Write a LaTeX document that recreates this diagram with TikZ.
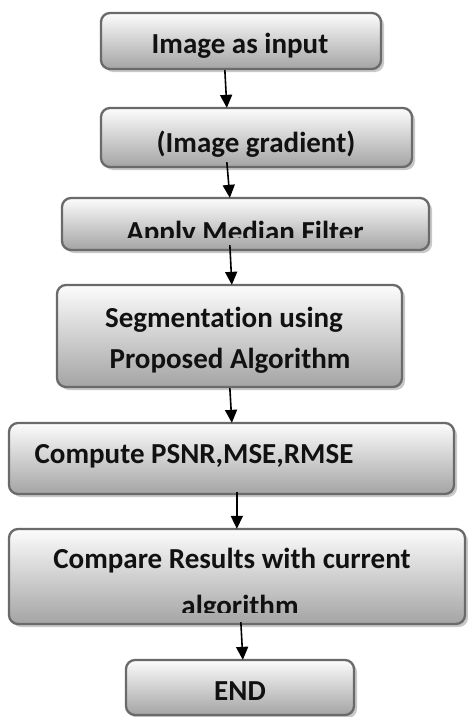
\documentclass[tikz,border=0pt]{standalone}
\usepackage{fontspec}
\setmainfont{Carlito}[RawFeature=-liga]
\usetikzlibrary{shadows,arrows.meta}
\definecolor{boxline}{HTML}{6A6A6A}
\definecolor{boxtop}{HTML}{FCFCFC}
\definecolor{boxbot}{HTML}{A4A4A4}
\definecolor{shad}{HTML}{C8C8C8}
\definecolor{txt}{HTML}{111111}
\tikzset{
  box/.style={draw=boxline, line width=2.3pt, rounded corners=9pt,
    top color=boxtop, bottom color=boxbot, inner sep=0pt,
    drop shadow={shadow xshift=3pt, shadow yshift=-3pt, fill=shad, opacity=1}},
  lbl/.style={anchor=base, inner sep=0pt, text=txt,
    font=\fontsize{29}{35}\selectfont\bfseries},
  arr/.style={line width=1.6pt, -{Triangle[width=12pt,length=13pt]}}
}
\begin{document}
\begin{tikzpicture}[x=1pt,y=-1pt]
\useasboundingbox (0,0) rectangle (467,717);
% boxes
\node[box, minimum width=280pt, minimum height=56pt] (b1) at (241,41) {};
\node[box, minimum width=311pt, minimum height=59pt] (b2) at (256.5,137.5) {};
\node[box, minimum width=367pt, minimum height=52pt] (b3) at (245.5,224) {};
\node[box, minimum width=345pt, minimum height=102pt] (b4) at (229.5,336) {};
\node[box, minimum width=445pt, minimum height=71pt] (b5) at (231.5,458.5) {};
\node[box, minimum width=456pt, minimum height=95pt] (b6) at (237,576.5) {};
\node[box, minimum width=228pt, minimum height=55pt] (b7) at (240,687.5) {};
% texts
\node[lbl] (t1) at (240,53) {Image as input};
\node[lbl] (t2) at (256,152) {(Image gradient)};
\begin{scope}
  \clip (0,0) rectangle (467,237);
  \node[lbl] (t3) at (245,241) {Apply Median Filter};
\end{scope}
\node[lbl] (t4a) at (224,327) {Segmentation using};
\node[lbl] (t4b) at (230,368) {Proposed Algorithm};
\node[lbl] (t5) at (194,463) {Compute PSNR,MSE,RMSE};
\node[lbl] (t6a) at (232,568) {Compare Results with current};
\begin{scope}
  \clip (0,0) rectangle (467,612);
  \node[lbl] (t6b) at (240,615) {algorithm};
\end{scope}
\node[lbl] (t7) at (240,700) {END};
% arrows
\draw[arr] ([xshift=125pt]b1.south west) -- ([xshift=127pt,yshift=-1pt]b2.north west);
\draw[arr] ([xshift=127pt,yshift=6pt]b2.south west) -- ([xshift=169pt,yshift=-1pt]b3.north west);
\draw[arr] ([xshift=169pt,yshift=6pt]b3.south west) -- ([xshift=176pt,yshift=-1pt]b4.north west);
\draw[arr] ([xshift=174pt]b4.south west) -- ([xshift=224pt,yshift=-1pt]b5.north west);
\draw[arr] ([xshift=229pt,yshift=3pt]b5.south west) -- ([xshift=229pt,yshift=-1pt]b6.north west);
\draw[arr] ([xshift=233pt,yshift=3pt]b6.south west) -- ([xshift=118pt,yshift=-1pt]b7.north west);
\end{tikzpicture}
\end{document}
